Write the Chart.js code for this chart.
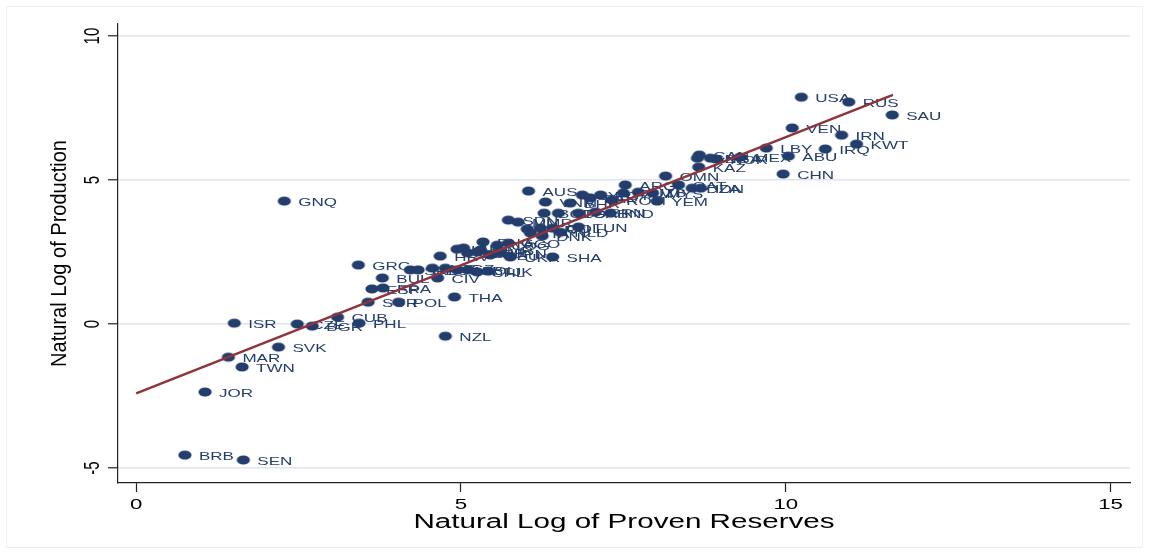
<!DOCTYPE html>
<html>
<head>
<meta charset="utf-8">
<script src="https://cdn.jsdelivr.net/npm/chart.js@4"></script>
<style>
  html, body { margin: 0; padding: 0; background: #fff; }
  canvas { display: block; }
</style>
</head>
<body>
<canvas id="chart" width="1149" height="554"></canvas>
<script>
// ─── DATA ──────────────────────────────────────────────
const countries = [
  'USA','RUS','SAU','VEN','IRN','KWT','IRQ','LBY','ABU','CHN',
  'MEX','CAN','NOR','GBR','NGA','KAZ','OMN','ARG','QAT','DZA',
  'IDN','SYR','AUS','VNM','MYS','UZB','TKM','EGY','ROM','PAK',
  'YEM','BHR','TTO','BGD','GAB','BRN','IND','SDN','MMR','PER',
  'ECU','COL','TUN','DNK','ITA','NLD','PNG','COG','AGO','CMR',
  'DEU','JPN','UKR','SHA','HUN','AUT','HRV','BLR','TUR','SRB',
  'GEO','AZE','KGZ','ALB','BOL','CHL','TJK','GRC','BUL','CIV',
  'ESP','FRA','SUR','POL','THA','NZL','CUB','PHL','CZE','BGR',
  'ISR','SVK','MAR','TWN','JOR','BRB','SEN','GNQ'
];

// natural log of proven reserves (x)
const reserves = [
  10.24, 10.97, 11.64, 10.10, 10.86, 11.09, 10.61, 9.70, 10.04, 9.96,
  9.30, 8.67, 8.93, 8.64, 8.84, 8.66, 8.15, 7.53, 8.35, 8.56,
  8.69, 6.87, 6.04, 6.30, 7.95, 7.73, 7.50, 7.15, 7.33, 6.99,
  8.02, 6.68, 6.50, 6.28, 6.81, 7.07, 7.30, 5.73, 5.88, 6.02,
  6.22, 6.41, 6.81, 6.25, 6.07, 6.53, 5.34, 5.56, 5.73, 5.30,
  5.45, 5.61, 5.76, 6.41, 4.94, 5.04, 4.68, 5.10, 5.25, 4.22,
  4.34, 4.56, 4.76, 4.94, 5.11, 5.25, 5.42, 3.42, 3.79, 4.64,
  3.63, 3.80, 3.57, 4.04, 4.90, 4.76, 3.10, 3.43, 2.48, 2.71,
  1.51, 2.19, 1.42, 1.63, 1.06, 0.75, 1.65, 2.28
];

// natural log of production (y)
const production = [
  7.88, 7.71, 7.26, 6.81, 6.56, 6.25, 6.08, 6.11, 5.83, 5.21,
  5.80, 5.87, 5.73, 5.76, 5.76, 5.45, 5.14, 4.83, 4.83, 4.72,
  4.72, 4.48, 4.62, 4.24, 4.55, 4.58, 4.55, 4.48, 4.31, 4.38,
  4.27, 4.20, 3.85, 3.85, 3.85, 3.89, 3.85, 3.61, 3.54, 3.30,
  3.33, 3.33, 3.37, 3.06, 3.16, 3.19, 2.85, 2.74, 2.81, 2.57,
  2.40, 2.47, 2.33, 2.33, 2.60, 2.64, 2.36, 2.47, 2.50, 1.88,
  1.88, 1.94, 1.94, 1.88, 1.88, 1.81, 1.84, 2.05, 1.60, 1.60,
  1.22, 1.25, 0.76, 0.76, 0.94, -0.42, 0.24, 0.03, 0.00, -0.07,
  0.03, -0.80, -1.15, -1.49, -2.36, -4.55, -4.72, 4.27
];

// fitted line end points
const fitX = [0, 11.65];
const fitY = [-2.41, 7.96];

const xTicks = [0, 5, 10, 15];
const yTicks = [-5, 0, 5, 10];

// ─── STYLE ─────────────────────────────────────────────
const NAVY = '#233d6d';
const MAROON = '#8f343b';
const GRID = '#dfe5ee';
const SX = 1.48; // the picture is stretched sideways
const FONT = '"Liberation Sans", Arial, sans-serif';

// Stretched text helper
const drawText = (ctx, text, x, y, size, color, align, rotate, sx = SX) => {
  ctx.save();
  ctx.translate(x, y);
  ctx.scale(sx, 1);
  if (rotate) ctx.rotate(-Math.PI / 2);
  ctx.font = `${size}px ${FONT}`;
  ctx.fillStyle = color;
  ctx.textAlign = align;
  ctx.textBaseline = 'middle';
  ctx.fillText(text, 0, 0);
  ctx.restore();
};

// Elliptic marker (dots look wide in the picture)
const dot = document.createElement('canvas');
dot.width = 16;
dot.height = 12;
const dctx = dot.getContext('2d');
dctx.fillStyle = NAVY;
dctx.beginPath();
dctx.ellipse(8, 6, 6.6, 4.6, 0, 0, Math.PI * 2);
dctx.fill();

// ─── PLUGINS ───────────────────────────────────────────
const markerLabels = {
  id: 'markerLabels',
  afterDatasetDraw(chart, args) {
    if (args.index !== 0) return;
    const ctx = chart.ctx;
    args.meta.data.forEach((pt, i) => {
      drawText(ctx, countries[i], pt.x + 14, pt.y + 1.5, 11.5, NAVY, 'left', false);
    });
  }
};

const axisText = {
  id: 'axisText',
  beforeDraw(chart) {
    const ctx = chart.ctx;
    ctx.save();
    ctx.strokeStyle = '#eceef4';
    ctx.lineWidth = 1;
    ctx.strokeRect(6.5, 6.5, chart.width - 13, chart.height - 13);
    ctx.restore();
  },
  afterDraw(chart) {
    const ctx = chart.ctx;
    const xs = chart.scales.x;
    const ys = chart.scales.y;
    const area = chart.chartArea;
    xTicks.forEach(v => {
      drawText(ctx, String(v), xs.getPixelForValue(v), 505, 15, '#000', 'center', false);
    });
    yTicks.forEach(v => {
      drawText(ctx, String(v), 93, ys.getPixelForValue(v), 15, '#000', 'center', true);
    });
    drawText(ctx, 'Natural Log of Proven Reserves', (area.left + area.right) / 2, 522, 20, '#000', 'center', false);
    drawText(ctx, 'Natural Log of Production', 60, (area.top + area.bottom) / 2, 20, '#000', 'center', true, 1.1);
  }
};

// ─── CHART ─────────────────────────────────────────────
new Chart(document.getElementById('chart'), {
  data: {
    datasets: [
      {
        type: 'scatter',
        data: reserves.map((x, i) => ({ x, y: production[i] })),
        pointStyle: dot,
        order: 2
      },
      {
        type: 'line',
        data: fitX.map((x, i) => ({ x, y: fitY[i] })),
        borderColor: MAROON,
        borderWidth: 2.5,
        pointRadius: 0,
        fill: false,
        order: 1
      }
    ]
  },
  options: {
    responsive: false,
    devicePixelRatio: 1,
    animation: false,
    events: [],
    layout: { padding: { top: 24, right: 19, left: 0, bottom: 0 } },
    plugins: { legend: { display: false }, tooltip: { enabled: false } },
    scales: {
      x: {
        type: 'linear',
        min: -0.28,
        max: 15.3,
        afterBuildTicks: axis => { axis.ticks = xTicks.map(v => ({ value: v })); },
        afterFit: axis => { axis.height = 71; },
        ticks: { display: false },
        grid: { drawOnChartArea: false, drawTicks: true, tickLength: 9, tickColor: '#222', tickWidth: 1.2 },
        border: { display: true, color: '#222', width: 1.2 }
      },
      y: {
        type: 'linear',
        min: -5.52,
        max: 10.42,
        afterBuildTicks: axis => { axis.ticks = yTicks.map(v => ({ value: v })); },
        afterFit: axis => { axis.width = 118; },
        ticks: { display: false },
        grid: { color: GRID, lineWidth: 1.5, drawTicks: true, tickLength: 10, tickColor: '#222', tickWidth: 1.2 },
        border: { display: true, color: '#222', width: 1.2 }
      }
    }
  },
  plugins: [markerLabels, axisText]
});
</script>
</body>
</html>
